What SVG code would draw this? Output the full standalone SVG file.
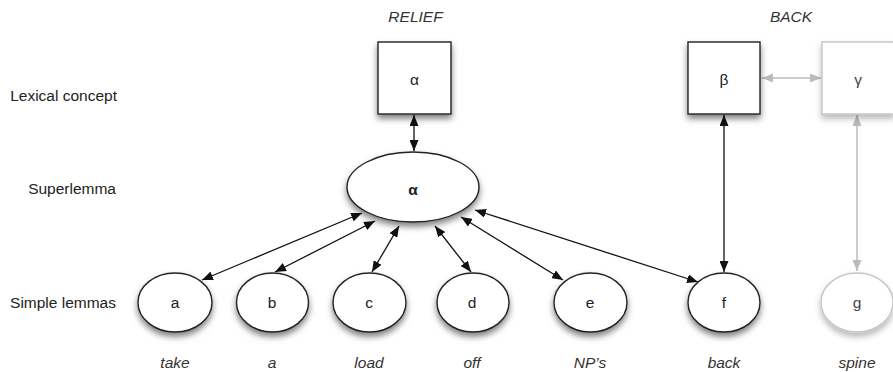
<svg xmlns="http://www.w3.org/2000/svg" width="893" height="372" viewBox="0 0 893 372">
<style>
text{font-family:"Liberation Sans",Arial,sans-serif;font-size:15.5px;fill:#222}
.it{font-style:italic;fill:#333}
.lab{text-anchor:end}
.c{text-anchor:middle}
.node{fill:#fff;stroke:#222;stroke-width:1.4}
.gnode{fill:#fff;stroke:#c4c4c4;stroke-width:1.4}
.gtext{fill:#444}
.edge{stroke:#111;stroke-width:1.3;fill:none;marker-start:url(#ah);marker-end:url(#ah)}
.gedge{stroke:#bbb;stroke-width:1.5;fill:none;marker-start:url(#ahg);marker-end:url(#ahg)}
</style>
<defs>
<filter id="sh" x="-30%" y="-30%" width="160%" height="170%">
<feDropShadow dx="0" dy="4" stdDeviation="3" flood-color="#000" flood-opacity="0.5"/>
</filter>
<filter id="shg" x="-30%" y="-30%" width="160%" height="170%">
<feDropShadow dx="0" dy="4" stdDeviation="3" flood-color="#000" flood-opacity="0.28"/>
</filter>
<marker id="ah" viewBox="0 0 11 9" refX="11" refY="4.5" markerWidth="11" markerHeight="9" markerUnits="userSpaceOnUse" orient="auto-start-reverse">
<path d="M0,0 L11,4.5 L0,9 z" fill="#111"/>
</marker>
<marker id="ahg" viewBox="0 0 11 9" refX="11" refY="4.5" markerWidth="11" markerHeight="9" markerUnits="userSpaceOnUse" orient="auto-start-reverse">
<path d="M0,0 L11,4.5 L0,9 z" fill="#bbb"/>
</marker>
</defs>
<rect width="893" height="372" fill="#fff"/>

<g id="row-labels">
<text class="lab" x="117" y="101">Lexical concept</text>
<text class="lab" x="116" y="194">Superlemma</text>
<text class="lab" x="116" y="308">Simple lemmas</text>
</g>
<g id="headers">
<text class="it c" x="415.5" y="22">RELIEF</text>
<text class="it c" x="791" y="22">BACK</text>
</g>

<g id="connectors">
<line class="edge" x1="414" y1="115" x2="414" y2="151"/>
<line class="edge" x1="362" y1="213" x2="202" y2="280"/>
<line class="edge" x1="375" y1="221" x2="275" y2="272"/>
<line class="edge" x1="399" y1="226" x2="372" y2="272"/>
<line class="edge" x1="435" y1="226" x2="471" y2="272"/>
<line class="edge" x1="461" y1="217" x2="563" y2="280"/>
<line class="edge" x1="475" y1="210" x2="698" y2="282"/>
<line class="edge" x1="724" y1="115" x2="724" y2="272"/>
<line class="gedge" x1="762" y1="78" x2="821" y2="78"/>
<line class="gedge" x1="857" y1="115" x2="857" y2="271"/>
</g>

<g id="concept-alpha">
<rect class="node" x="378" y="42" width="73" height="72" filter="url(#sh)"/>
<text class="c" x="414.5" y="85">α</text>
</g>
<g id="concept-beta">
<rect class="node" x="688" y="42" width="72" height="72" filter="url(#sh)"/>
<text class="c" x="724" y="85">β</text>
</g>
<g id="concept-gamma">
<rect class="gnode" x="822" y="42" width="72" height="72" filter="url(#shg)"/>
<text class="c gtext" x="858" y="85">γ</text>
</g>

<g id="superlemma">
<ellipse class="node" cx="413" cy="187" rx="66" ry="35" filter="url(#sh)"/>
<text class="c" x="413" y="195" font-weight="bold">α</text>
</g>

<g id="lemma-a">
<ellipse class="node" cx="175" cy="302.5" rx="37" ry="29.5" filter="url(#sh)"/>
<text class="c" x="175" y="308">a</text>
<text class="it c" x="175" y="368">take</text>
</g>
<g id="lemma-b">
<ellipse class="node" cx="272.5" cy="302.5" rx="36" ry="29.5" filter="url(#sh)"/>
<text class="c" x="272" y="308">b</text>
<text class="it c" x="272" y="368">a</text>
</g>
<g id="lemma-c">
<ellipse class="node" cx="369.5" cy="302.5" rx="36.5" ry="29.5" filter="url(#sh)"/>
<text class="c" x="369" y="308">c</text>
<text class="it c" x="369" y="368">load</text>
</g>
<g id="lemma-d">
<ellipse class="node" cx="473" cy="302.5" rx="36" ry="29.5" filter="url(#sh)"/>
<text class="c" x="472" y="308">d</text>
<text class="it c" x="472" y="368">off</text>
</g>
<g id="lemma-e">
<ellipse class="node" cx="590.5" cy="302.5" rx="36.5" ry="29.5" filter="url(#sh)"/>
<text class="c" x="590" y="308">e</text>
<text class="it c" x="590" y="368">NP’s</text>
</g>
<g id="lemma-f">
<ellipse class="node" cx="724" cy="302.5" rx="36" ry="29.5" filter="url(#sh)"/>
<text class="c" x="724" y="308">f</text>
<text class="it c" x="724" y="368">back</text>
</g>
<g id="lemma-g">
<ellipse class="gnode" cx="857" cy="302.5" rx="36" ry="29.5" filter="url(#shg)"/>
<text class="c gtext" x="857" y="308">g</text>
<text class="it c" x="857" y="368">spine</text>
</g>
</svg>
